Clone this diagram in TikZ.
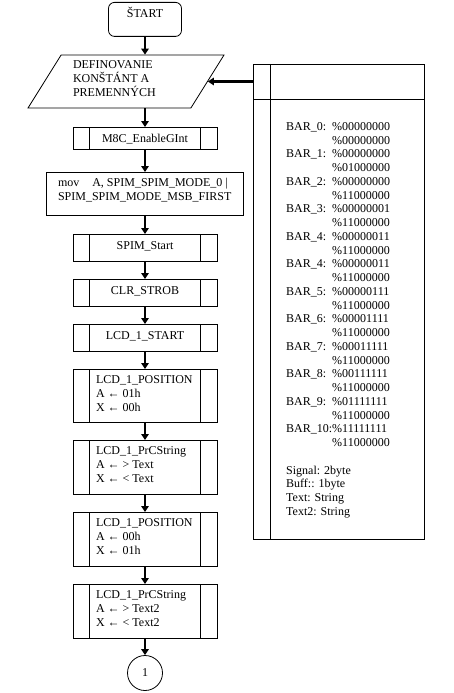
\documentclass[tikz,border=0pt]{standalone}
\usepackage{fontspec}
\setmainfont{Liberation Serif}
\usetikzlibrary{arrows.meta,shapes.geometric}
\newcommand\bxc[3]{\parbox[t][#1pt][t]{#2pt}{\centering\rule{0pt}{15pt}#3}}
\newcommand\bxl[4]{\parbox[t][#1pt][t]{#2pt}{\raggedright\leftskip=#3pt\rule{0pt}{14.5pt}#4}}
\begin{document}
\begin{tikzpicture}[x=1pt,y=-1pt,
  every node/.style={font=\fontsize{12}{13.74}\selectfont, text=black},
  box/.style={draw, line width=0.8pt, inner sep=0pt, anchor=north},
  arr/.style={line width=2.2pt, -{Triangle[width=7.5pt,length=6pt]}},
  thinline/.style={line width=0.8pt}]
\useasboundingbox (0,0) rectangle (453,693);

\node[box, rounded corners=6pt] (start) at (145,2) {\bxc{34}{73}{ŠTART}};

\node[trapezium, trapezium left angle=58, trapezium right angle=122,
  trapezium stretches body, draw, line width=0.8pt, inner sep=0pt,
  minimum width=196pt, minimum height=53pt] (def) at (126,81.5)
  {\parbox[t][53pt][t]{106pt}{\raggedright\rule{0pt}{14pt}DEFINOVANIE\\KONŠTÁNT A\\PREMENNÝCH}};

\node[box] (m8c) at (145,127) {\bxc{22}{144}{M8C\_EnableGInt}};
\node[box] (mov) at (145,172) {\bxl{43}{197}{11.5}{mov\hspace*{13pt}A, SPIM\_SPIM\_MODE\_0 |\\SPIM\_SPIM\_MODE\_MSB\_FIRST}};
\node[box] (spim) at (145,234) {\bxc{27}{144}{SPIM\_Start}};
\node[box] (clr) at (145,279) {\bxc{27}{144}{CLR\_STROB}};
\node[box] (lcds) at (145,324) {\bxc{27}{144}{LCD\_1\_START}};
\node[box] (pos1) at (145,369) {\bxl{53}{144}{23}{LCD\_1\_POSITION\\A ← 01h\\X ← 00h}};
\node[box] (prc1) at (145,440) {\bxl{54}{144}{23}{LCD\_1\_PrCString\\A ← > Text\\X ← < Text}};
\node[box] (pos2) at (145,512) {\bxl{54}{144}{23}{LCD\_1\_POSITION\\A ← 00h\\X ← 01h}};
\node[box] (prc2) at (145,584) {\bxl{54}{144}{23}{LCD\_1\_PrCString\\A ← > Text2\\X ← < Text2}};
\node[draw, circle, line width=0.8pt, minimum size=35pt, inner sep=0pt] (c1) at (145,673) {1};

\foreach \n in {m8c,spim,clr,lcds,pos1,prc1,pos2,prc2}{
  \draw[thinline] ([xshift=17pt]\n.north west) -- ([xshift=17pt]\n.south west)
    ([xshift=-17pt]\n.north east) -- ([xshift=-17pt]\n.south east);
}

\node[draw, line width=0.8pt, inner sep=0pt, anchor=north west,
  minimum width=171pt, minimum height=475pt] (vbox) at (253,64) {};
\draw[thinline] ([xshift=17pt]vbox.north west) -- ([xshift=17pt]vbox.south west)
  ([yshift=-35pt]vbox.north west) -- ([yshift=-35pt]vbox.north east);
\node[anchor=base west, inner sep=0pt] (vars) at (286,130.5) {%
\begin{tabular}[t]{@{}l@{}l@{}}
BAR\_0: & \%00000000\\ & \%00000000\\
BAR\_1: & \%00000000\\ & \%01000000\\
BAR\_2: & \%00000000\\ & \%11000000\\
BAR\_3: & \%00000001\\ & \%11000000\\
BAR\_4: & \%00000011\\ & \%11000000\\
BAR\_4: & \%00000011\\ & \%11000000\\
BAR\_5: & \%00000111\\ & \%11000000\\
BAR\_6: & \%00001111\\ & \%11000000\\
BAR\_7: & \%00011111\\ & \%11000000\\
BAR\_8: & \%00111111\\ & \%11000000\\
BAR\_9: & \%01111111\\ & \%11000000\\
BAR\_10:& \%11111111\\ & \%11000000\\
 & \\
\multicolumn{2}{@{}l@{}}{Signal: 2byte}\\
\multicolumn{2}{@{}l@{}}{Buff:: 1byte}\\
\multicolumn{2}{@{}l@{}}{Text: String}\\
\multicolumn{2}{@{}l@{}}{Text2: String}
\end{tabular}};

\draw[arr] (start.south) -- (start.south |- def.north);
\draw[arr] (m8c.north |- def.south) -- (m8c.north);
\draw[arr] (vbox.west |- def.right side) -- (def.right side);
\foreach \a/\b in {m8c/mov,mov/spim,spim/clr,clr/lcds,lcds/pos1,pos1/prc1,prc1/pos2,pos2/prc2}{
  \draw[arr] (\a.south) -- (\b.north);
}
\draw[arr] (prc2.south) -- (c1.north);
\end{tikzpicture}
\end{document}
